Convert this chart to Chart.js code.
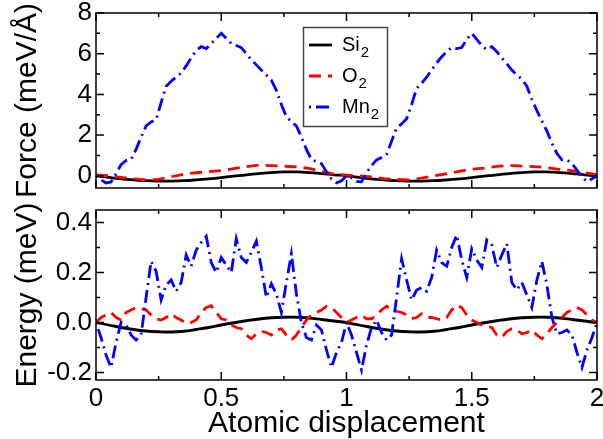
<!DOCTYPE html>
<html>
<head>
<meta charset="utf-8">
<script src="https://cdn.jsdelivr.net/npm/chart.js@4.4.1/dist/chart.umd.min.js"></script>
<style>
  html, body { margin: 0; padding: 0; background: #fff; }
  #wrap { position: relative; width: 603px; height: 439px; }
  canvas { position: absolute; left: 0; }
</style>
</head>
<body>
<div id="wrap">
  <canvas id="forceChart" width="603" height="200" style="top:0"></canvas>
  <canvas id="energyChart" width="603" height="244" style="top:195px"></canvas>
</div>
<script>
// x grids (atomic displacement)
const xFine = [
  0, 0.02, 0.04, 0.06, 0.08, 0.1, 0.12, 0.14, 0.16, 0.18,
  0.2, 0.22, 0.24, 0.26, 0.28, 0.3, 0.32, 0.34, 0.36, 0.38,
  0.4, 0.42, 0.44, 0.46, 0.48, 0.5, 0.52, 0.54, 0.56, 0.58,
  0.6, 0.62, 0.64, 0.66, 0.68, 0.7, 0.72, 0.74, 0.76, 0.78,
  0.8, 0.82, 0.84, 0.86, 0.88, 0.9, 0.92, 0.94, 0.96, 0.98,
  1, 1.02, 1.04, 1.06, 1.08, 1.1, 1.12, 1.14, 1.16, 1.18,
  1.2, 1.22, 1.24, 1.26, 1.28, 1.3, 1.32, 1.34, 1.36, 1.38,
  1.4, 1.42, 1.44, 1.46, 1.48, 1.5, 1.52, 1.54, 1.56, 1.58,
  1.6, 1.62, 1.64, 1.66, 1.68, 1.7, 1.72, 1.74, 1.76, 1.78,
  1.8, 1.82, 1.84, 1.86, 1.88, 1.9, 1.92, 1.94, 1.96, 1.98, 2
];
const xCoarse = [
  0, 0.05, 0.1, 0.15, 0.2, 0.25, 0.3, 0.35, 0.4, 0.45,
  0.5, 0.55, 0.6, 0.65, 0.7, 0.75, 0.8, 0.85, 0.9, 0.95,
  1, 1.05, 1.1, 1.15, 1.2, 1.25, 1.3, 1.35, 1.4, 1.45,
  1.5, 1.55, 1.6, 1.65, 1.7, 1.75, 1.8, 1.85, 1.9, 1.95, 2
];

const seriesNames = ['Si', 'O', 'Mn'];
const seriesColors = ['#000000', '#ff0000', '#0000ff'];
const seriesDashes = [[], [12, 7], [2, 5, 13, 5]];

// Force (meV/Å)
const forceSi = [
  0, -0.08, -0.15, -0.2, -0.24, -0.26, -0.26, -0.24, -0.2, -0.15,
  -0.09, -0.02, 0.05, 0.11, 0.16, 0.19, 0.19, 0.16, 0.11, 0.05,
  0, -0.08, -0.15, -0.2, -0.24, -0.26, -0.26, -0.24, -0.2, -0.15,
  -0.09, -0.02, 0.05, 0.11, 0.16, 0.19, 0.19, 0.16, 0.11, 0.05, 0
];
const forceO = [
  0.05, 0, -0.08, -0.15, -0.2, -0.18, -0.05, 0.08, 0.15, 0.2,
  0.26, 0.35, 0.45, 0.52, 0.5, 0.47, 0.44, 0.36, 0.22, 0.08,
  0.03, 0, -0.06, -0.14, -0.18, -0.2, -0.12, 0, 0.1, 0.22,
  0.32, 0.38, 0.46, 0.52, 0.48, 0.45, 0.4, 0.32, 0.25, 0.15, 0.05
];
const forceMn = [
  0, -0.2, -0.35, -0.3, 0.1, 0.55, 0.75, 0.8, 1.3, 1.9,
  2.45, 2.65, 2.75, 3.6, 4.4, 4.65, 4.85, 5.05, 5.4, 5.8,
  6.15, 6.35, 6.25, 6.5, 6.75, 7.0, 6.75, 6.5, 6.4, 6.3,
  6.0, 5.7, 5.45, 5.2, 4.95, 4.7, 4.2, 3.5, 2.9, 2.65,
  2.45, 1.9, 1.3, 0.8, 0.7, 0.6, 0.2, -0.15, -0.35, -0.25,
  0,
  -0.1, -0.28, -0.3, 0.15, 0.5, 0.78, 0.9, 1.05, 1.7, 2.35,
  2.55, 2.8, 3.5, 4.3, 4.55, 4.85, 5.2, 5.55, 5.85, 6.1,
  6.3, 6.25, 6.3, 6.7, 7.0, 6.7, 6.4, 6.2, 6.35, 6.1,
  5.8, 5.5, 5.2, 4.95, 4.75, 4.4, 3.75, 3.2, 2.7, 2.2,
  1.6, 1.1, 0.78, 0.78, 0.6, 0.28, -0.05, -0.28, -0.15, 0
];

// Energy (meV)
const energySi = [
  0, -0.01, -0.02, -0.028, -0.034, -0.037, -0.038, -0.035, -0.028, -0.02,
  -0.01, -0.001, 0.007, 0.014, 0.019, 0.021, 0.021, 0.018, 0.012, 0.006,
  0, -0.01, -0.02, -0.028, -0.034, -0.037, -0.038, -0.035, -0.028, -0.02,
  -0.01, -0.001, 0.007, 0.014, 0.019, 0.021, 0.021, 0.018, 0.012, 0.006, 0
];
const energyO = [
  0, 0.02, 0.03, 0.04, 0.02, 0.01, 0.04, 0.05, 0.06, 0.055,
  0.05, 0.03, 0.015, 0.01, 0.02, 0.035, 0.02, 0.01, -0.005, 0,
  0.01, 0.04, 0.06, 0.067, 0.04, 0.015, 0.01, -0.01, -0.02, -0.025,
  -0.05, -0.065, -0.045, -0.035, -0.04, -0.05, -0.03, -0.025, -0.05, -0.07,
  -0.05, -0.02, 0.01, 0.03, 0.04, 0.05, 0.065, 0.06, 0.04, 0.02,
  0,
  0.01, 0.02, 0.03, 0.015, 0.015, 0.03, 0.05, 0.065, 0.05, 0.045,
  0.04, 0.03, 0.015, 0.02, 0.035, 0.02, 0.02, 0.015, 0.01, 0.02,
  0.05, 0.07, 0.06, 0.03, 0.01, 0, -0.01, -0.015, -0.02, -0.05,
  -0.06, -0.035, -0.025, -0.03, -0.045, -0.04, -0.03, -0.05, -0.065, -0.045,
  -0.02, 0, 0.02, 0.04, 0.05, 0.06, 0.05, 0.03, 0.01, 0
];
const energyMn = [
  0, -0.06, -0.13, -0.18, -0.08, 0, -0.01, -0.05, -0.07, -0.05,
  0.1, 0.245, 0.205, 0.09, 0.15, 0.17, 0.125, 0.16, 0.27, 0.225,
  0.29, 0.32, 0.345, 0.24, 0.2, 0.26, 0.23, 0.2, 0.335, 0.26,
  0.24, 0.28, 0.325, 0.22, 0.1, 0.155, 0.115, 0.04, 0.16, 0.275,
  0.115, 0, -0.06, -0.07, -0.01, -0.03, -0.11, -0.18, -0.12, -0.08,
  0,
  -0.05, -0.12, -0.19, -0.09, -0.02, 0.01, -0.04, -0.07, -0.05, 0.1,
  0.255, 0.17, 0.09, 0.13, 0.14, 0.125, 0.18, 0.29, 0.24, 0.225,
  0.3, 0.35, 0.25, 0.18, 0.295, 0.25, 0.22, 0.33, 0.31, 0.22,
  0.27, 0.315, 0.16, 0.13, 0.16, 0.11, 0.06, 0.17, 0.245, 0.15,
  0.02, -0.045, -0.04, -0.03, -0.05, -0.12, -0.18, -0.11, -0.06, 0
];

// axis ticks
const xTicks = [0, 0.5, 1, 1.5, 2];
const xMinorTicks = [0.25, 0.75, 1.25, 1.75];
const forceTicks = [0, 2, 4, 6, 8];
const forceMinorTicks = [1, 3, 5, 7];
const energyTicks = [-0.2, 0, 0.2, 0.4];
const energyMinorTicks = [-0.1, 0.1, 0.3];

const FONT = "'Liberation Sans', Arial, sans-serif";
Chart.defaults.font.family = FONT;
Chart.defaults.color = '#000';
Chart.defaults.animation = false;

const pts = (xs, ys) => xs.map((x, i) => ({ x: x, y: ys[i] }));

function makeDatasets(si, o, mn) {
  return [si, o, mn].map((d, i) => ({
    label: seriesNames[i] + '\u2082',
    data: d,
    borderColor: seriesColors[i],
    borderWidth: 2.8,
    borderDash: seriesDashes[i],
    pointRadius: 0,
    fill: false,
    tension: i === 0 ? 0.4 : 0,
    order: 2 - i
  }));
}

// frame box with inward ticks on all four sides (xmgrace look)
const framePlugin = {
  id: 'frame',
  afterDatasetsDraw(chart, args, opts) {
    const { ctx, chartArea: a, scales } = chart;
    ctx.save();
    ctx.strokeStyle = '#000';
    ctx.lineWidth = 1.5;
    ctx.strokeRect(a.left, a.top, a.right - a.left, a.bottom - a.top);
    ctx.beginPath();
    const xt = (vals, len) => vals.forEach(v => {
      const px = scales.x.getPixelForValue(v);
      ctx.moveTo(px, a.bottom); ctx.lineTo(px, a.bottom - len);
      ctx.moveTo(px, a.top); ctx.lineTo(px, a.top + len);
    });
    const yt = (vals, len) => vals.forEach(v => {
      const py = scales.y.getPixelForValue(v);
      ctx.moveTo(a.left, py); ctx.lineTo(a.left + len, py);
      ctx.moveTo(a.right, py); ctx.lineTo(a.right - len, py);
    });
    xt(opts.xMajor, 8); xt(opts.xMinor, 4);
    yt(opts.yMajor, 8); yt(opts.yMinor, 4);
    ctx.stroke();
    ctx.restore();
  }
};

// boxed legend inside the force panel, with subscripts
const boxLegend = {
  id: 'boxLegend',
  afterDatasetsDraw(chart) {
    const { ctx } = chart;
    ctx.save();
    ctx.fillStyle = '#fff';
    ctx.fillRect(303.5, 27.5, 84, 99);
    ctx.strokeStyle = '#444';
    ctx.lineWidth = 1.5;
    ctx.strokeRect(303.5, 27.5, 84, 99);
    const rows = [45, 76, 107];
    chart.data.datasets.forEach((ds, i) => {
      const y = rows[i];
      ctx.beginPath();
      ctx.strokeStyle = ds.borderColor;
      ctx.lineWidth = ds.borderWidth;
      ctx.setLineDash(ds.borderDash);
      ctx.moveTo(309, y); ctx.lineTo(332, y);
      ctx.stroke();
      ctx.setLineDash([]);
      ctx.fillStyle = '#000';
      ctx.textBaseline = 'middle';
      ctx.font = '20px ' + FONT;
      ctx.fillText(seriesNames[i], 342, y);
      const w = ctx.measureText(seriesNames[i]).width;
      ctx.font = '15px ' + FONT;
      ctx.fillText('2', 342 + w + 1, y + 8);
    });
    ctx.restore();
  }
};

function noPad(s) {
  s.paddingTop = 0; s.paddingBottom = 0; s.paddingLeft = 0; s.paddingRight = 0;
}

function yScale(min, max, ticks, title, fmt) {
  return {
    min: min, max: max,
    afterFit: s => { s.width = 96; noPad(s); },
    afterBuildTicks: s => { s.ticks = ticks.map(v => ({ value: v })); },
    grid: { display: false, drawTicks: false },
    border: { display: false },
    ticks: { padding: 4, font: { size: 26 }, callback: fmt },
    title: { display: true, text: title, font: { size: 30, lineHeight: 1 }, padding: { top: 13, bottom: 0 } }
  };
}

// ===== Force panel
new Chart(document.getElementById('forceChart'), {
  type: 'line',
  data: { datasets: makeDatasets(pts(xCoarse, forceSi), pts(xCoarse, forceO), pts(xFine, forceMn)) },
  options: {
    responsive: false,
    layout: { padding: { top: 13, bottom: 12, left: 0, right: 6 } },
    scales: {
      x: { type: 'linear', min: 0, max: 2, display: false },
      y: yScale(-0.6, 8, forceTicks, 'Force (meV/Å)', v => String(v))
    },
    plugins: {
      legend: { display: false },
      tooltip: { enabled: false },
      frame: { xMajor: xTicks, xMinor: xMinorTicks, yMajor: forceTicks, yMinor: forceMinorTicks }
    }
  },
  plugins: [framePlugin, boxLegend]
});

// ===== Energy panel
new Chart(document.getElementById('energyChart'), {
  type: 'line',
  data: { datasets: makeDatasets(pts(xCoarse, energySi), pts(xFine, energyO), pts(xFine, energyMn)) },
  options: {
    responsive: false,
    layout: { padding: { top: 15, bottom: 0, left: 0, right: 6 } },
    scales: {
      x: {
        type: 'linear', min: 0, max: 2,
        afterFit: s => { s.height = 59; noPad(s); },
        afterBuildTicks: s => { s.ticks = xTicks.map(v => ({ value: v })); },
        grid: { display: false, drawTicks: false },
        border: { display: false },
        ticks: { padding: 3, maxRotation: 0, font: { size: 26 }, callback: v => String(v) },
        title: { display: true, text: 'Atomic displacement', font: { size: 30, lineHeight: 1 }, padding: { top: 0, bottom: 0 } }
      },
      y: yScale(-0.23, 0.45, energyTicks, 'Energy (meV)', v => v.toFixed(1))
    },
    plugins: {
      legend: { display: false },
      tooltip: { enabled: false },
      frame: { xMajor: xTicks, xMinor: xMinorTicks, yMajor: energyTicks, yMinor: energyMinorTicks }
    }
  },
  plugins: [framePlugin]
});
</script>
</body>
</html>
